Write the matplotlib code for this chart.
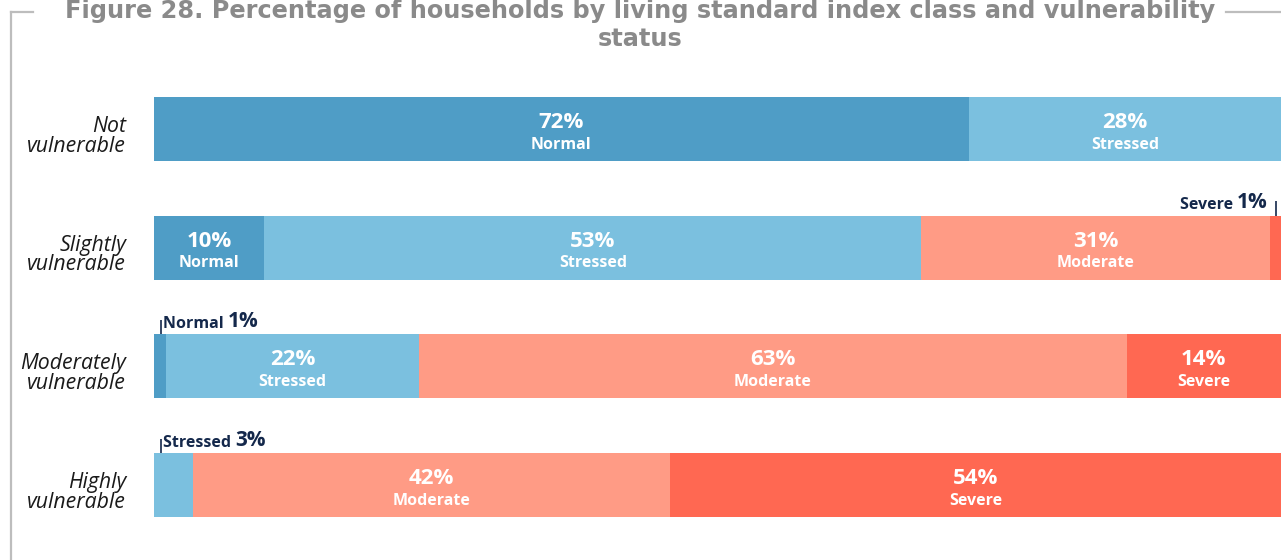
import matplotlib
matplotlib.use("Agg")
import matplotlib.pyplot as plt
import matplotlib.transforms as mtransforms
from matplotlib.lines import Line2D
import numpy as np

plt.rcParams['font.family'] = ['Open Sans', 'DejaVu Sans']

# Vulnerability groups (top to bottom)
groups = ['Not\nvulnerable', 'Slightly\nvulnerable', 'Moderately\nvulnerable', 'Highly\nvulnerable']
classes = ['Normal', 'Stressed', 'Moderate', 'Severe']

# Bar widths as drawn (% of households)
normal = [72.3, 9.8, 1.1, 0.0]
stressed = [27.7, 58.3, 22.4, 3.5]
moderate = [0.0, 30.9, 62.8, 42.3]
severe = [0.0, 1.1, 13.7, 54.2]

# Percentages as printed on the chart
normal_lbl = [72, 10, 1, 0]
stressed_lbl = [28, 53, 22, 3]
moderate_lbl = [0, 31, 63, 42]
severe_lbl = [0, 1, 14, 54]

colors = ['#4f9dc6', '#7bc0df', '#ff9b85', '#ff6852']
navy = '#14284b'

title1 = 'Figure 28. Percentage of households by living standard index class and vulnerability'
title2 = 'status'

W, H = 1281, 560
fig = plt.figure(figsize=(W / 100, H / 100), dpi=100)

def fx(x):
    return x / W

def fy(y):
    return 1 - y / H

# axes placed so the bars span the same pixels as the reference
ax = fig.add_axes([fx(154), fy(544.35), fx(1281) - fx(154), (544.35 - 69.65) / H])

values = np.array([normal, stressed, moderate, severe])
labels = np.array([normal_lbl, stressed_lbl, moderate_lbl, severe_lbl])
y = np.arange(len(groups))
bar_h = 0.54

left = np.zeros(len(groups))
for k, cls in enumerate(classes):
    ax.barh(y, values[k], left=left, height=bar_h, color=colors[k], linewidth=0)
    for i in range(len(groups)):
        v = values[k][i]
        if v <= 0:
            continue
        cx = left[i] + v / 2
        if v >= 5:
            ax.annotate(f'{labels[k][i]}%', (cx, y[i]), xytext=(0, 4.7), textcoords='offset points',
                        ha='center', va='center', color='white', fontsize=16, fontweight='bold')
            ax.annotate(cls, (cx, y[i]), xytext=(0, -11.3), textcoords='offset points',
                        ha='center', va='center', color='white', fontsize=11.5, fontweight='bold')
        else:
            top = y[i] - bar_h / 2
            if left[i] + v >= 99:
                # small segment at the right end: label to the left of the tick
                tx = cx
                ax.plot([tx, tx], [top, top - 0.12], color=navy, lw=1.2, solid_capstyle='butt')
                t = ax.annotate(f'{labels[k][i]}%', (tx, top - 0.02), xytext=(-6, 0),
                                textcoords='offset points', ha='right', va='bottom',
                                color=navy, fontsize=15, fontweight='bold')
                ax.annotate(cls + ' ', (0, 0), xycoords=t, ha='right', va='bottom',
                            color=navy, fontsize=11.5, fontweight='bold')
            else:
                tx = left[i] + 0.6
                ax.plot([tx, tx], [top, top - 0.12], color=navy, lw=1.2, solid_capstyle='butt')
                t = ax.annotate(cls + ' ', (tx, top - 0.02), xytext=(1.5, 0),
                                textcoords='offset points', ha='left', va='bottom',
                                color=navy, fontsize=11.5, fontweight='bold')
                ax.annotate(f'{labels[k][i]}%', (1, 0), xycoords=t, ha='left', va='bottom',
                            color=navy, fontsize=15, fontweight='bold')
    left += values[k]

ax.set_xlim(0, 100)
ax.set_ylim(len(groups) - 0.5, -0.5)
ax.set_yticks(y)
ax.set_yticklabels(groups, fontstyle='italic', fontsize=15.3, color='#1a1a1a', linespacing=0.92)
ax.tick_params(axis='y', length=0, pad=20)
ax.set_xticks([])
# group labels sit a little below the bar centre
shift = mtransforms.ScaledTranslation(0, -0.055, fig.dpi_scale_trans)
for lab in ax.get_yticklabels():
    lab.set_transform(lab.get_transform() + shift)
for s in ax.spines.values():
    s.set_visible(False)

# title and frame
tfont = dict(ha='center', va='baseline', fontsize=17.3, fontweight='bold', color='#8a8a8a',
             family=['DejaVu Sans'])
fig.text(0.5, fy(18), title1, **tfont)
fig.text(0.5, fy(46), title2, **tfont)
frame = dict(color='#bdbdbd', lw=1.6, transform=fig.transFigure)
fig.add_artist(Line2D([fx(10.5), fx(10.5)], [fy(12), fy(560)], **frame))
fig.add_artist(Line2D([fx(10.5), fx(33)], [fy(12), fy(12)], **frame))
fig.add_artist(Line2D([fx(1226), fx(1281)], [fy(12), fy(12)], **frame))

fig.savefig('out.png', dpi=100)
